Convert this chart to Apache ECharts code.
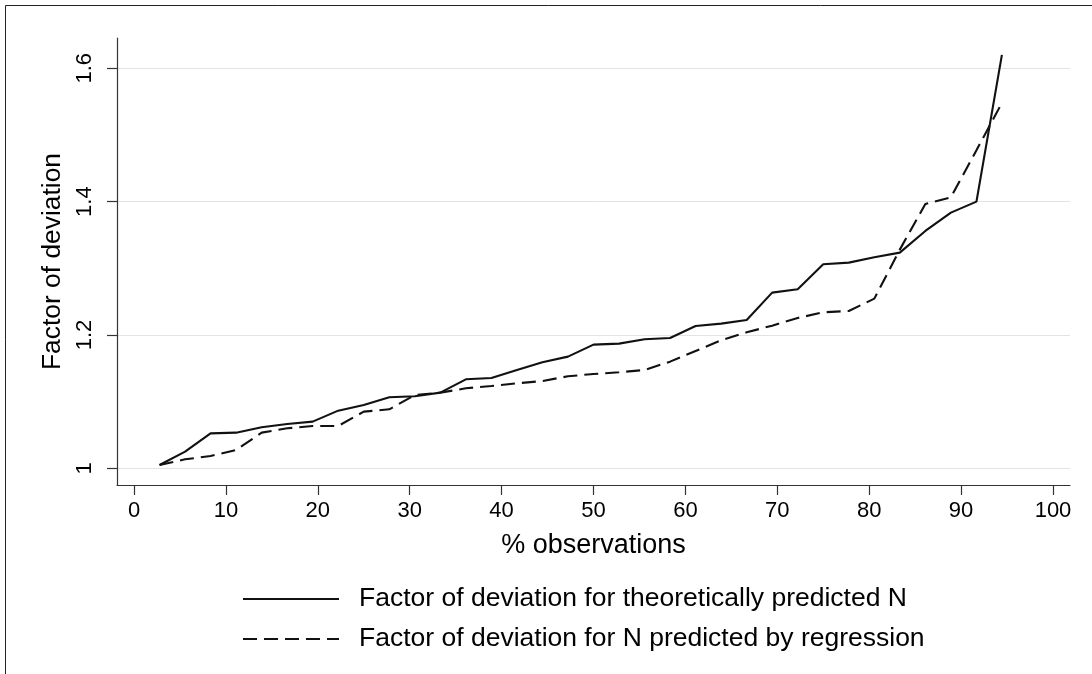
<!DOCTYPE html>
<html>
<head>
<meta charset="utf-8">
<script src="https://cdn.jsdelivr.net/npm/echarts@6/dist/echarts.min.js"></script>
<style>
html,body{margin:0;padding:0;background:#fff;}
#chart{width:1092px;height:674px;}
</style>
</head>
<body>
<div id="chart"></div>
<script>
// ---- data ----
const xPct = [2.78, 5.56, 8.33, 11.11, 13.89, 16.67, 19.44, 22.22, 25.00, 27.78, 30.56, 33.33, 36.11, 38.89, 41.67, 44.44, 47.22, 50.00, 52.78, 55.56, 58.33, 61.11, 63.89, 66.67, 69.44, 72.22, 75.00, 77.78, 80.56, 83.33, 86.11, 88.89, 91.67, 94.44];
const theoretical = [1.005, 1.025, 1.0525, 1.0535, 1.0615, 1.0665, 1.070, 1.0865, 1.095, 1.1065, 1.108, 1.1135, 1.1335, 1.1355, 1.1475, 1.159, 1.1675, 1.1855, 1.187, 1.1935, 1.1955, 1.2135, 1.217, 1.2225, 1.2635, 1.2685, 1.306, 1.3085, 1.3165, 1.3235, 1.356, 1.3835, 1.400, 1.620];
const regression = [1.005, 1.0135, 1.0185, 1.0275, 1.0535, 1.060, 1.0635, 1.0635, 1.085, 1.0885, 1.110, 1.1135, 1.120, 1.1235, 1.1275, 1.131, 1.138, 1.1415, 1.144, 1.1475, 1.160, 1.176, 1.192, 1.204, 1.214, 1.2255, 1.234, 1.236, 1.2545, 1.328, 1.3965, 1.4065, 1.477, 1.548];
const xTicks = [0, 10, 20, 30, 40, 50, 60, 70, 80, 90, 100];
const yTicks = [1, 1.2, 1.4, 1.6];
const seriesNames = ['Factor of deviation for theoretically predicted N', 'Factor of deviation for N predicted by regression'];
const xTitle = '% observations';
const yTitle = 'Factor of deviation';

const FONT = '"Liberation Sans", Arial, sans-serif';
const DASH = [14, 7];

const chart = echarts.init(document.getElementById('chart'), null, {renderer: 'canvas'});
const axisCol = '#333';
const option = {
  backgroundColor: '#fff',
  animation: false,
  textStyle: {fontFamily: FONT, color: '#000'},
  grid: {left: 117, right: 22, top: 38, bottom: 189, containLabel: false},
  legend: {
    orient: 'vertical', left: 237, top: 579,
    itemWidth: 96, itemHeight: 14, itemGap: 10,
    itemStyle: {color: 'rgba(0,0,0,0)', borderColor: 'rgba(0,0,0,0)', borderWidth: 0},
    textStyle: {fontFamily: FONT, fontSize: 26.5, color: '#000', lineHeight: 30, padding: [0, 0, 0, 15]},
    data: [
      {name: seriesNames[0]},
      {name: seriesNames[1], lineStyle: {type: DASH}}
    ],
    selectedMode: false
  },
  xAxis: {
    type: 'value', min: -1.85, max: 101.85,
    name: xTitle, nameLocation: 'middle', nameGap: 47,
    nameTextStyle: {fontFamily: FONT, fontSize: 27, color: '#000'},
    axisLine: {show: true, onZero: false, lineStyle: {color: axisCol, width: 1.2}},
    axisTick: {show: true, length: 10, customValues: xTicks, lineStyle: {color: axisCol, width: 1.2}},
    axisLabel: {show: true, customValues: xTicks, margin: 15, fontFamily: FONT, fontSize: 22, color: '#000'},
    splitLine: {show: false}
  },
  yAxis: {
    type: 'value', min: 0.975, max: 1.6454,
    name: yTitle, nameLocation: 'middle', nameGap: 51, nameRotate: 90,
    nameTextStyle: {fontFamily: FONT, fontSize: 26.4, color: '#000'},
    axisLine: {show: true, onZero: false, lineStyle: {color: axisCol, width: 1.2}},
    axisTick: {show: true, length: 10, customValues: yTicks, lineStyle: {color: axisCol, width: 1.2}},
    axisLabel: {show: true, customValues: yTicks, rotate: 90, margin: 21, fontFamily: FONT, fontSize: 22, color: '#000'},
    splitLine: {show: true, lineStyle: {color: '#e3e3e3', width: 1}}
  },
  series: [
    {
      name: seriesNames[0], type: 'line', symbol: 'none',
      data: xPct.map((x, i) => [x, theoretical[i]]),
      lineStyle: {color: '#111', width: 2.1},
      itemStyle: {color: '#111'}
    },
    {
      name: seriesNames[1], type: 'line', symbol: 'none',
      data: xPct.map((x, i) => [x, regression[i]]),
      lineStyle: {color: '#111', width: 2.1, type: DASH},
      itemStyle: {color: '#111'}
    }
  ],
  graphic: [
    {type: 'line', shape: {x1: 5.5, y1: 5.5, x2: 1092, y2: 5.5}, style: {stroke: '#222', lineWidth: 1}, silent: true},
    {type: 'line', shape: {x1: 5.5, y1: 5.5, x2: 5.5, y2: 674}, style: {stroke: '#222', lineWidth: 1}, silent: true}
  ]
};
chart.setOption(option);
</script>
</body>
</html>
